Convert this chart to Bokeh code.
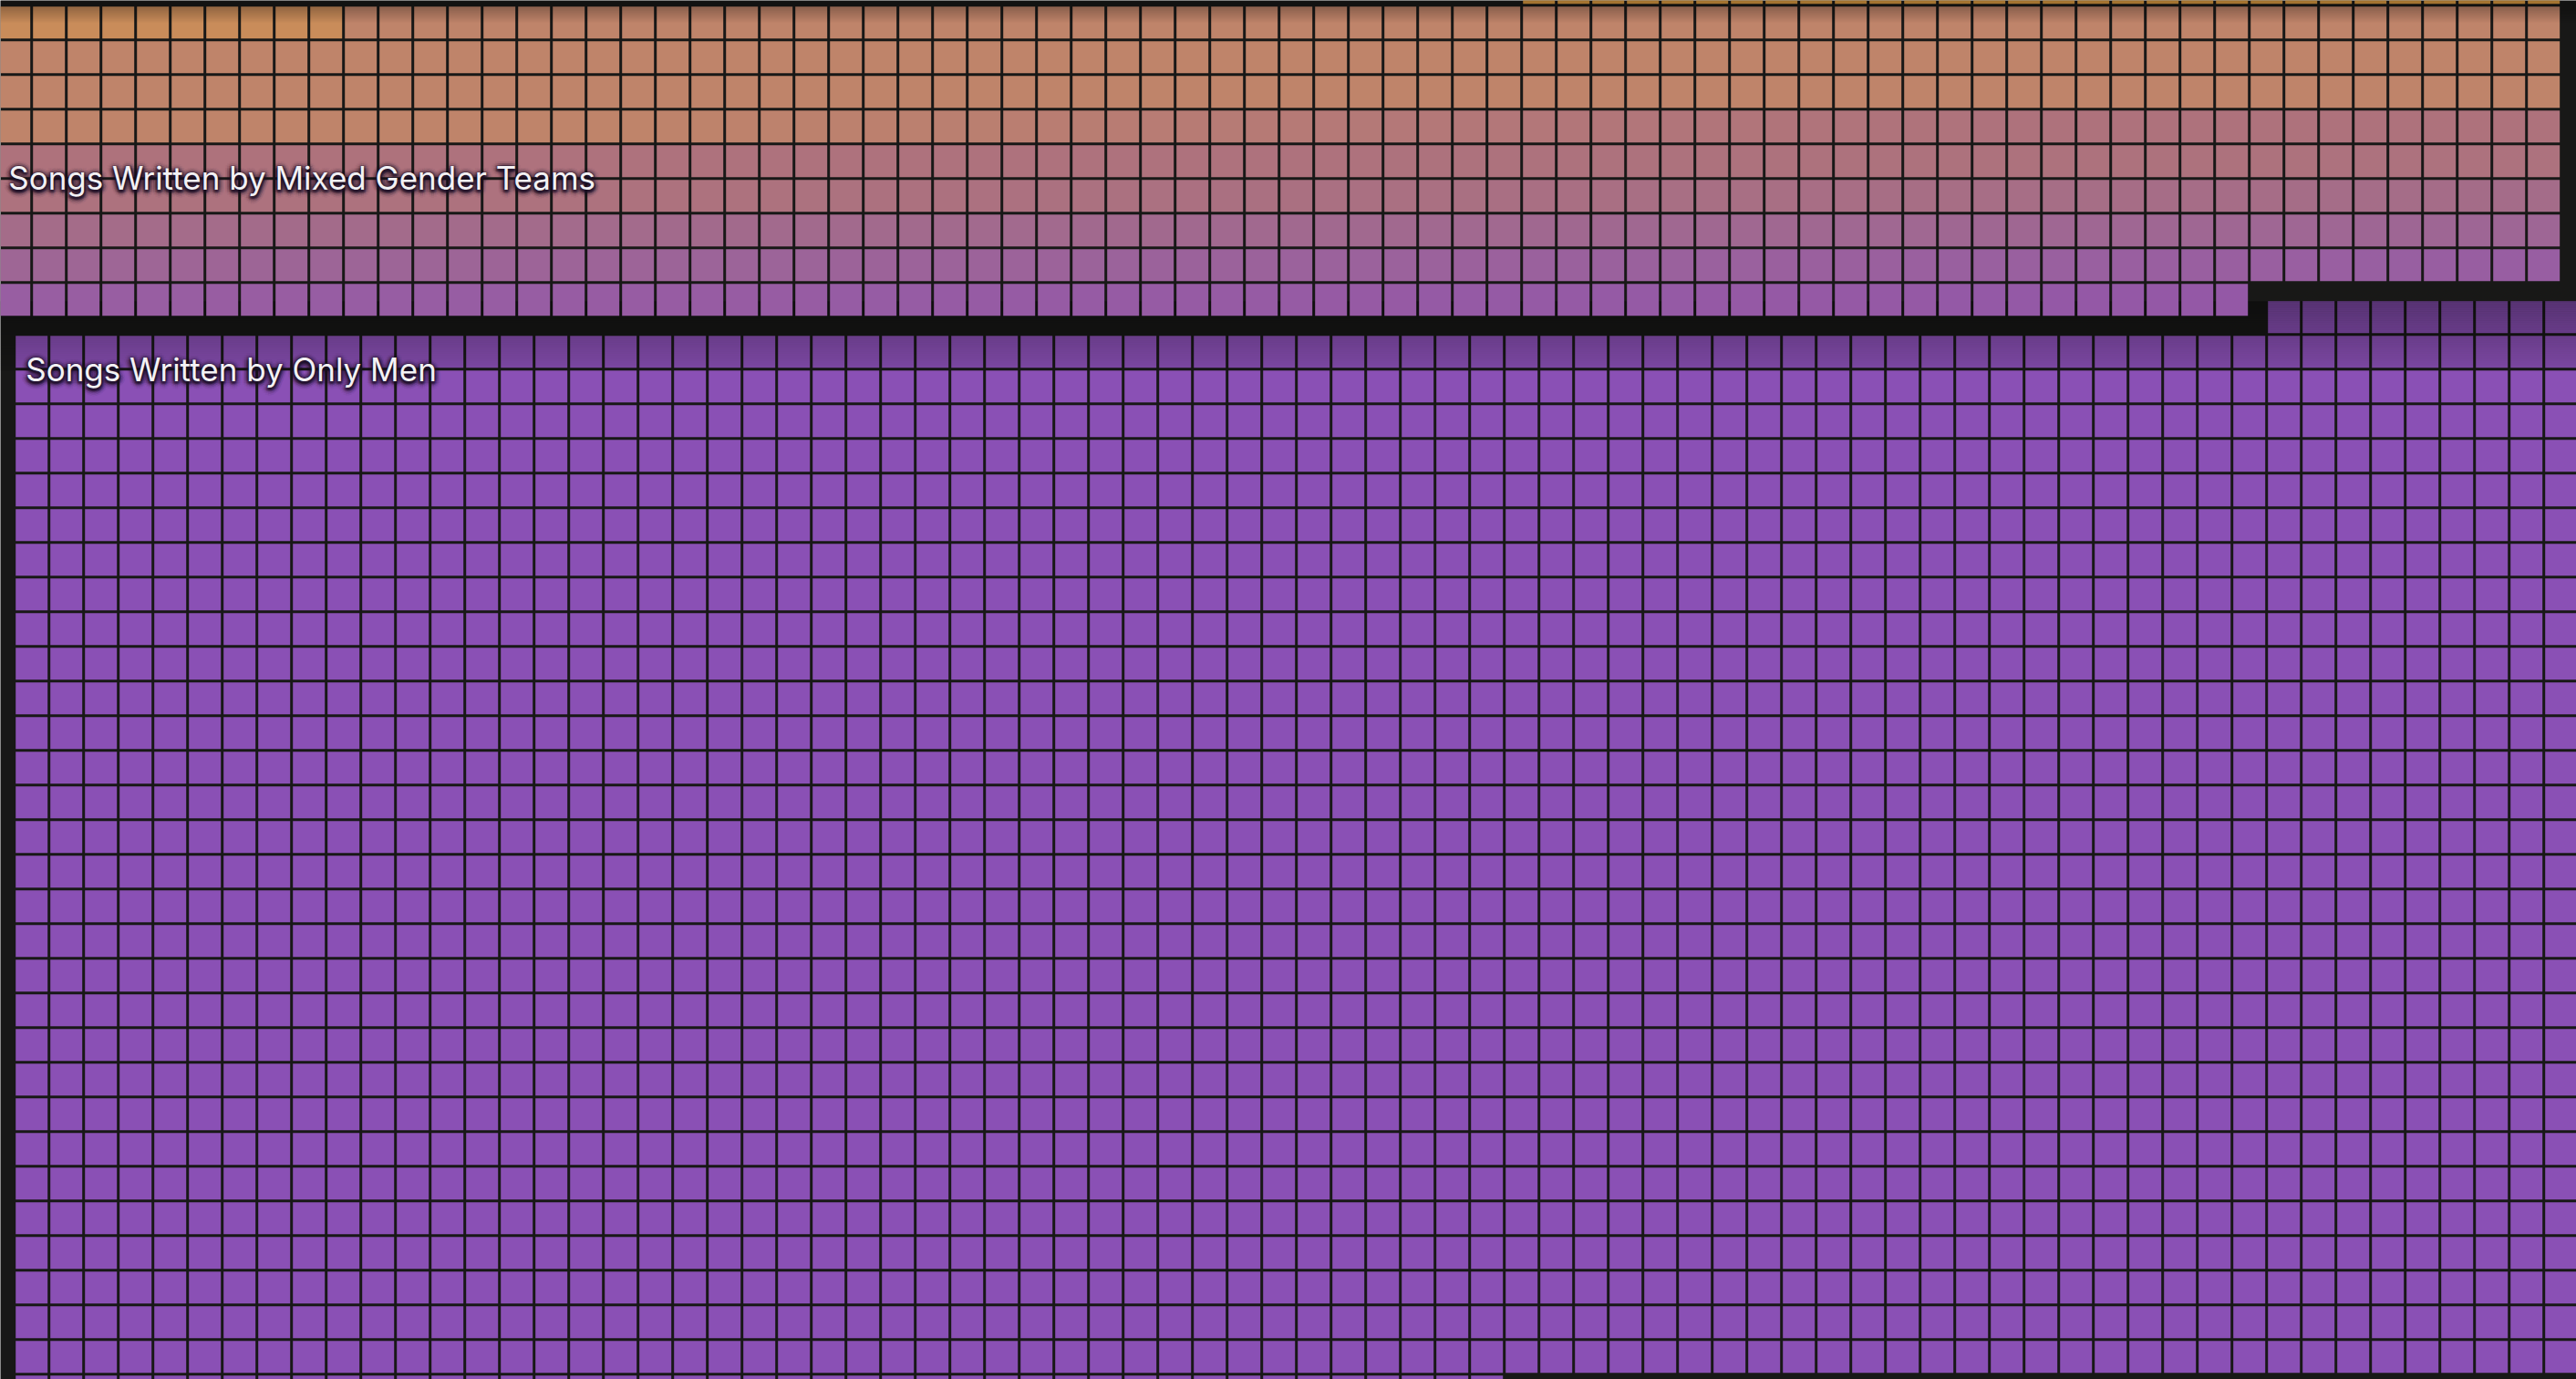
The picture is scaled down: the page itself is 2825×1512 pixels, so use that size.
import numpy as np
from bokeh.plotting import figure
from bokeh.models import Range1d
from bokeh.core.properties import value
from bokeh.embed import file_html
from bokeh.resources import INLINE

# ---------------- data ----------------
groups = ["Songs Written by Mixed Gender Teams", "Songs Written by Only Men"]
song_counts = [687, 2272]          # one square per song
lead_in_cells = 44                 # squares of the previous group in the first row
n_cols = 74                        # squares per row

# ---------------- style / layout ----------------
W, H = 2825, 1512
PITCH, CELL = 38.0, 35.0
STEP = 19.0                        # each group is shifted right/down by this
X_BASE, Y_BASE = -21.3, -50.3      # origin of the (hidden) group before these
BG = "#181817"
MEN_COLOR = "#8a50b5"
mixed_stops_idx = [0, 29, 30, 39, 40, 270, 292, 310, 420, 474, 548, 622, 686]
mixed_stops_col = ["#d8993f", "#d8993f", "#c98c5a", "#c98c5a", "#bf846a", "#bf846a",
                   "#b47878", "#ae727c", "#ad727e", "#a46c89", "#9e6695", "#985ea2", "#9458a6"]
label_x_pad = 11.0
label_mid_y = [194.0, 404.0]
FONT = "Inter"
FONT_SIZE = "35px"


def hex2rgb(h):
    h = h.lstrip("#")
    return np.array([int(h[i:i + 2], 16) for i in (0, 2, 4)], dtype=float)


def rgb2hex(c):
    c = np.clip(np.round(c), 0, 255).astype(int)
    return "#%02x%02x%02x" % tuple(c)


stop_rgb = np.array([hex2rgb(c) for c in mixed_stops_col])


def mixed_color(i):
    rgb = [np.interp(i, mixed_stops_idx, stop_rgb[:, j]) for j in range(3)]
    return rgb2hex(np.array(rgb))


starts = [lead_in_cells, lead_in_cells + song_counts[0]]


def group_origin(k):
    s = k + 1
    return X_BASE + STEP * s, Y_BASE + STEP * s


def cells(k):
    x0, y0 = group_origin(k)
    idx = np.arange(starts[k], starts[k] + song_counts[k])
    rows, cols = np.divmod(idx, n_cols)
    left = x0 + cols * PITCH
    top = y0 + rows * PITCH
    return left, left + CELL, top, top + CELL, idx - starts[k]


p = figure(width=W, height=H, output_backend="svg", toolbar_location=None,
           x_range=Range1d(0, W), y_range=Range1d(H, 0),
           x_axis_type=None, y_axis_type=None, min_border=0)
p.background_fill_color = BG
p.border_fill_color = BG
p.outline_line_color = None
p.grid.visible = False

# only men (drawn first: lies below)
l, r, t, b, _ = cells(1)
p.quad(left=l, right=r, top=t, bottom=b, fill_color=MEN_COLOR, line_color=None)

# shading along the top rows of the men group
_, my0 = group_origin(1)
men_top = my0 + (starts[1] // n_cols) * PITCH
band = 2 * PITCH
for off in np.arange(0, band, 2):
    a = 0.38 - 0.28 * off / band
    p.quad(left=[0], right=[W], top=[men_top + off], bottom=[men_top + off + 2],
           fill_color="black", fill_alpha=a, line_color=None)

# mixed gender teams
l, r, t, b, li = cells(0)
cols_mixed = [mixed_color(i) for i in li]
p.quad(left=l, right=r, top=t, bottom=b, fill_color=cols_mixed, line_color=None)

# top-of-view fade
for y in np.arange(0, 24, 2):
    a = 0.25 if y < 8 else 0.25 * (24 - y) / 16
    p.quad(left=[0], right=[W], top=[y], bottom=[y + 2], fill_color="black",
           fill_alpha=a, line_color=None)

# labels with dark glow
for k, name in enumerate(groups):
    x0, _ = group_origin(k)
    lx = x0 + label_x_pad
    ly = label_mid_y[k]
    for rad, alpha in [(7, 0.05), (5, 0.08), (3, 0.12), (1.5, 0.15)]:
        for ang in np.linspace(0, 2 * np.pi, 16, endpoint=False):
            p.text(x=[lx + rad * np.cos(ang)], y=[ly + rad * np.sin(ang) + 2], text=[name],
                   text_font=value(FONT), text_font_size=FONT_SIZE,
                   text_color="#1c0f26", text_alpha=alpha,
                   text_align="left", text_baseline="middle")
    p.text(x=[lx], y=[ly], text=[name], text_font=value(FONT),
           text_font_size=FONT_SIZE, text_color="#f3f1f4",
           text_align="left", text_baseline="middle")

open("out.html", "w").write(file_html(p, INLINE))
